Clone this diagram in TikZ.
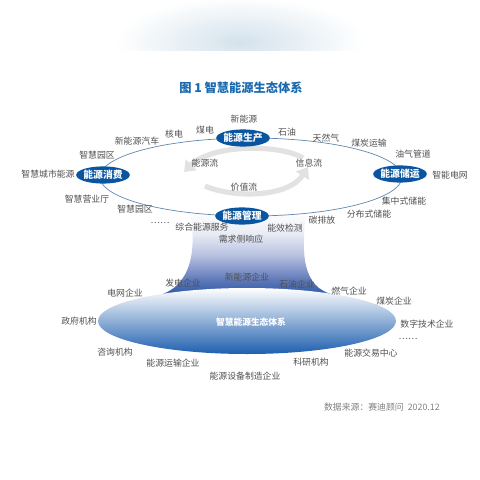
\documentclass[tikz,border=0pt]{standalone}
\usepackage{fontspec}
\setmainfont{Noto Sans CJK SC}
\usetikzlibrary{arrows.meta,shapes.geometric}

\definecolor{hubblue}{RGB}{10,85,160}
\definecolor{titleblue}{RGB}{25,105,175}
\definecolor{orbitcol}{RGB}{95,135,175}
\definecolor{labelgray}{RGB}{80,80,80}
\definecolor{deepblue}{RGB}{30,95,175}
\definecolor{funnelbot}{RGB}{35,85,165}
\definecolor{funnellow}{RGB}{95,120,185}
\definecolor{funnelmid}{RGB}{185,195,225}
\definecolor{funnelhigh}{RGB}{232,235,244}
\definecolor{flowgray}{RGB}{226,226,226}
\definecolor{hazeblue}{RGB}{212,226,236}

\pgfdeclareverticalshading{funnelshade}{100bp}{
  color(0bp)=(funnelbot); color(25bp)=(funnelbot);
  color(35bp)=(funnellow); color(50bp)=(funnelmid);
  color(62bp)=(funnelhigh); color(75bp)=(white); color(100bp)=(white)}

\tikzset{
  hub/.style={ellipse, fill=hubblue, text=white, font=\bfseries\fontsize{7}{8}\selectfont,
    inner xsep=-1.5mm, inner ysep=0pt, minimum width=13.4mm, minimum height=4.3mm},
  lbl/.style={text=labelgray, font=\fontsize{6.3}{7}\selectfont, inner sep=0pt},
  flow/.style={flowgray, line width=1.3mm, -{Triangle[length=2.6mm,width=3.8mm]}},
}

\begin{document}
\begin{tikzpicture}[x=0.25mm,y=-0.25mm]
\useasboundingbox (0,0) rectangle (480,480);

\begin{scope}
  \clip (110,0) rectangle (370,50);
  \shade[inner color=hazeblue, outer color=white] (240,42) ellipse (125 and 45);
\end{scope}

\node[text=titleblue, font=\bfseries\fontsize{8.7}{10}\selectfont] (title) at (241,88) {图 1\ 智慧能源生态体系};

% funnel and lower ellipse
\shade[shading=funnelshade]
  (190,212) .. controls (197,250) and (192,292) .. (150,297) -- (335,295)
  .. controls (300,288) and (302,250) .. (306,212) -- cycle;
\shade[top color=white, bottom color=deepblue] (247,321) ellipse (149 and 33);
\node[text=white, font=\bfseries\fontsize{6.2}{7}\selectfont] (eco) at (251,322) {智慧能源生态体系};

% orbit
\draw[orbitcol, line width=0.5pt] (251,177) ellipse (151 and 39);
\draw[flow] (303,158) .. controls (280,144) and (212,144) .. (184,172);
\draw[flow] (205,186) .. controls (232,198) and (288,198) .. (308,167);

\node[hub] (prod) at (243,138) {能源生产};
\node[hub] (cons) at (103,175) {能源消费};
\node[hub] (trans) at (400,174) {能源储运};
\node[hub] (mgmt) at (242,216) {能源管理};

\node[lbl] (eflow) at (205,163) {能源流};
\node[lbl] (iflow) at (309,163) {信息流};
\node[lbl] (vflow) at (244,187) {价值流};

\node[lbl] (newen) at (244,119) {新能源};
\node[lbl] (coal) at (205,130) {煤电};
\node[lbl] (nuke) at (174,134) {核电};
\node[lbl] (nev) at (137,141) {新能源汽车};
\node[lbl] (oil) at (287,132) {石油};
\node[lbl] (gas) at (326,138) {天然气};
\node[lbl] (coaltr) at (369,143) {煤炭运输};
\node[lbl] (pipe) at (413,154) {油气管道};
\node[lbl] (grid) at (450,175) {智能电网};
\node[lbl] (centst) at (404,201) {集中式储能};
\node[lbl] (distst) at (369,214) {分布式储能};
\node[lbl] (carbon) at (322,220) {碳排放};
\node[lbl] (effic) at (285,228) {能效检测};
\node[lbl] (demand) at (241,239) {需求侧响应};
\node[lbl] (service) at (202,227) {综合能源服务};
\node[lbl] (moreup) at (160,223) {……};
\node[lbl] (park2) at (135,209) {智慧园区};
\node[lbl] (hall) at (87,199) {智慧营业厅};
\node[lbl] (city) at (48,174) {智慧城市能源};
\node[lbl] (park1) at (97,155) {智慧园区};

\node[lbl] (gridco) at (125,293) {电网企业};
\node[lbl] (powco) at (183,283) {发电企业};
\node[lbl] (newco) at (247,277) {新能源企业};
\node[lbl] (oilco) at (297,284) {石油企业};
\node[lbl] (gasco) at (349,291) {燃气企业};
\node[lbl] (coalco) at (394,301) {煤炭企业};
\node[lbl] (digico) at (427,324) {数字技术企业};
\node[lbl] (moredn) at (408,339) {……};
\node[lbl] (trade) at (371,353) {能源交易中心};
\node[lbl] (research) at (311,362) {科研机构};
\node[lbl] (equip) at (245,376) {能源设备制造企业};
\node[lbl] (transco) at (173,363) {能源运输企业};
\node[lbl] (consult) at (115,352) {咨询机构};
\node[lbl] (gov) at (79,321) {政府机构};

\node[lbl, text=gray, anchor=east] (source) at (440,407) {数据来源：赛迪顾问\ \ 2020.12};
\end{tikzpicture}
\end{document}
